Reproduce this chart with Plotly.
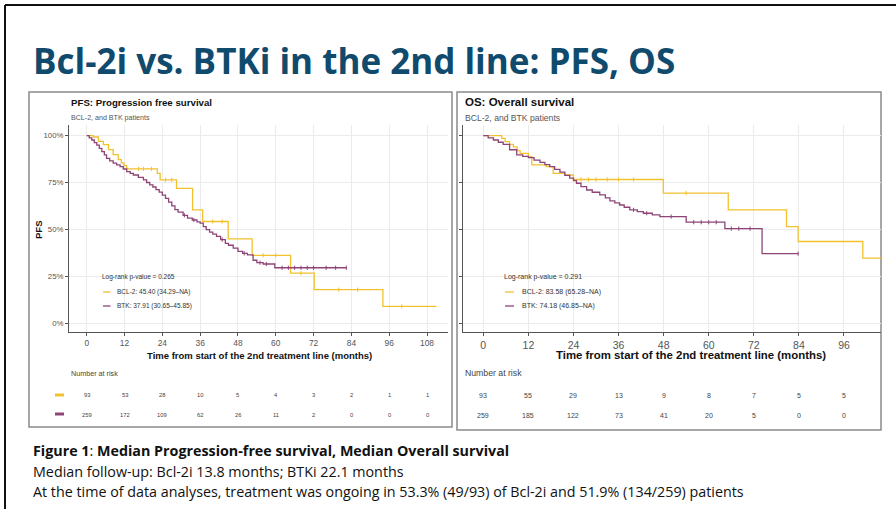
import numpy as np
import plotly.graph_objects as go

W, H = 896, 509

# ---------------- data ----------------
# PFS, BCL-2 (step points: time in months, survival in %)
pfs_bcl_t = [0, 2.1, 3.7, 5.3, 6.9, 8.4, 10.0, 11.0, 11.8, 12.7, 22.4, 23.3, 28.5, 33.6, 36.8, 44.9, 52.5, 64.7, 72.2, 94.0, 111.0]
pfs_bcl_s = [100, 99.3, 97.0, 95.2, 92.6, 89.9, 87.2, 85.5, 84.0, 82.3, 79.9, 76.4, 71.9, 60.4, 54.2, 44.9, 36.1, 26.6, 17.8, 8.9, 8.9]
pfs_bcl_cens = [16.5, 18.0, 20.6, 25.0, 27.0, 40.0, 43.0, 56.0, 60.0, 68.0, 80.0, 86.0, 100.0]

# PFS, BTK
pfs_btk_t = [0, 0.8, 1.6, 2.4, 3.2, 4.0, 4.8, 5.6, 6.3, 7.3, 8.4, 9.5, 10.6, 11.6, 12.7, 13.8, 14.8, 16.4, 18.0, 19.0,
             20.0, 21.0, 22.0, 23.0, 24.0, 25.0, 26.0, 27.0, 28.0, 29.0, 30.6, 32.0, 33.5, 35.0, 36.0, 37.0, 37.91,
             39.0, 40.0, 41.2, 42.5, 44.0, 45.0, 46.5, 48.0, 49.5, 51.0, 52.8, 54.0, 56.0, 59.7, 82.4]
pfs_btk_s = [100, 98.8, 97.7, 96.3, 95.0, 93.2, 91.5, 89.7, 87.9, 86.6, 85.3, 84.4, 83.5, 82.2, 80.8, 79.9, 79.0, 77.7, 76.4, 75.0,
             73.7, 72.6, 71.2, 69.9, 68.3, 66.5, 64.5, 62.5, 60.5, 59.2, 57.5, 56.0, 55.0, 54.0, 53.3, 51.5, 49.8,
             48.5, 47.5, 46.2, 44.5, 42.5, 41.5, 40.0, 38.2, 37.2, 36.4, 33.5, 32.2, 31.5, 29.5, 29.5]
pfs_btk_cens = [31.0, 34.0, 43.0, 50.0, 55.0, 57.0, 62.0, 64.0, 66.0, 68.0, 70.0, 72.0, 76.0, 79.0, 82.4]

# OS, BCL-2
os_bcl_t = [0, 4.9, 5.8, 7.0, 8.0, 9.0, 9.8, 12.0, 12.9, 16.8, 18.6, 21.7, 24.0, 47.9, 65.2, 80.7, 83.8, 101.0, 110.0]
os_bcl_s = [100, 98.6, 96.8, 95.4, 94.0, 92.0, 90.6, 88.8, 84.4, 83.5, 79.9, 79.0, 76.6, 69.3, 60.4, 51.5, 43.5, 34.6, 34.6]
os_bcl_cens = [26.0, 28.0, 30.0, 33.0, 36.0, 40.0, 54.0]

# OS, BTK
os_btk_t = [0, 1.3, 2.7, 4.0, 5.3, 7.0, 8.9, 10.5, 12.0, 13.5, 15.1, 16.4, 17.7, 19.0, 20.4, 21.7, 23.0, 24.0, 24.8,
            26.0, 27.5, 29.0, 31.0, 32.5, 33.7, 35.0, 36.3, 37.5, 39.0, 41.0, 42.6, 45.0, 47.0, 54.0, 64.3, 74.2, 83.8]
os_btk_s = [100, 98.8, 97.7, 96.5, 95.4, 92.5, 89.7, 88.9, 88.3, 87.0, 85.8, 84.6, 83.5, 82.0, 80.5, 78.8, 77.3, 76.0, 74.6,
            72.8, 71.0, 69.8, 68.4, 66.8, 65.2, 64.1, 63.0, 61.8, 60.4, 59.5, 58.6, 57.7, 56.8, 53.8, 50.4, 37.0, 37.0]
os_btk_cens = [40.0, 43.5, 50.0, 56.0, 58.0, 60.0, 62.0, 66.0, 68.0, 71.0, 83.8]

# axes / risk tables
pfs_months = [0, 12, 24, 36, 48, 60, 72, 84, 96, 108]
os_months = [0, 12, 24, 36, 48, 60, 72, 84, 96]
y_ticks = [0, 25, 50, 75, 100]
y_tick_labels = ["0%", "25%", "50%", "75%", "100%"]
risk_pfs_bcl = [93, 53, 28, 10, 5, 4, 3, 2, 1, 1]
risk_pfs_btk = [259, 172, 109, 62, 26, 11, 2, 0, 0, 0]
risk_os_bcl = [93, 55, 29, 13, 9, 8, 7, 5, 5]
risk_os_btk = [259, 185, 122, 73, 41, 20, 5, 0, 0]

title_text = "Bcl-2i vs. BTKi in the 2nd line: PFS, OS"
pfs_title = "PFS: Progression free survival"
os_title = "OS: Overall survival"
subtitle = "BCL-2, and BTK patients"
x_title = "Time from start of the 2nd treatment line (months)"
pfs_legend = ["Log-rank p-value = 0.265", "BCL-2: 45.40 (34.29\u2013NA)", "BTK: 37.91 (30.65\u201345.85)"]
os_legend = ["Log-rank p-value = 0.291", "BCL-2: 83.58 (65.28\u2013NA)", "BTK: 74.18 (46.85\u2013NA)"]
foot = [
    "<b>Figure 1</b>: <b>Median Progression-free survival, Median Overall survival</b>",
    "Median follow-up: Bcl-2i 13.8 months; BTKi 22.1 months",
    "At the time of data analyses, treatment was ongoing in 53.3% (49/93) of Bcl-2i and 51.9% (134/259) patients",
]

YEL = "#F2C12E"
PUR = "#8E4477"
GRID = "#ebebeb"
AX = "#555555"
ARIAL = "Liberation Sans, Arial, sans-serif"
CAL = "Open Sans, Lato, sans-serif"


def px(x):
    return x / W


def py(y):
    return 1 - y / H


def surv_at(t_arr, s_arr, times):
    t_arr = np.asarray(t_arr)
    idx = np.searchsorted(t_arr, np.asarray(times), side="right") - 1
    return list(np.asarray(s_arr)[idx])


fig = go.Figure()


def add_curve(t, s, cens, color, xa, ya):
    fig.add_trace(go.Scatter(x=t, y=s, mode="lines", line=dict(color=color, width=1.3, shape="hv"),
                             xaxis=xa, yaxis=ya, showlegend=False, hoverinfo="skip"))
    fig.add_trace(go.Scatter(x=cens, y=surv_at(t, s, cens), mode="markers",
                             marker=dict(symbol="line-ns-open", size=3, color=color,
                                         line=dict(color=color, width=1)),
                             xaxis=xa, yaxis=ya, showlegend=False, hoverinfo="skip"))


add_curve(pfs_bcl_t, pfs_bcl_s, pfs_bcl_cens, YEL, "x", "y")
add_curve(pfs_btk_t, pfs_btk_s, pfs_btk_cens, PUR, "x", "y")
add_curve(os_bcl_t, os_bcl_s, os_bcl_cens, YEL, "x2", "y2")
add_curve(os_btk_t, os_btk_s, os_btk_cens, PUR, "x2", "y2")

ydom = [py(332), py(125)]
common_x = dict(ticks="outside", ticklen=3, tickwidth=1, tickcolor=AX, showline=True, linecolor=AX, linewidth=1,
                showgrid=True, gridcolor=GRID, gridwidth=0.8, zeroline=False, fixedrange=True)
common_y = dict(ticks="outside", ticklen=3, tickwidth=1, tickcolor=AX, showline=True, linecolor=AX, linewidth=1,
                showgrid=True, gridcolor=GRID, gridwidth=0.8, zeroline=False, range=[-4.8, 105.7],
                tickvals=y_ticks, domain=ydom, fixedrange=True)

fig.update_layout(
    width=W, height=H, margin=dict(l=0, r=0, t=0, b=0),
    paper_bgcolor="white", plot_bgcolor="white",
    xaxis=dict(domain=[px(69), px(448)], range=[-5.62, 114.66], anchor="y", tickvals=pfs_months,
               tickfont=dict(family=ARIAL, size=8.4, color=AX), **common_x),
    yaxis=dict(anchor="x", ticktext=y_tick_labels, tickfont=dict(family=ARIAL, size=7.8, color=AX), **common_y),
    xaxis2=dict(domain=[px(462.7), px(881)], range=[-5.48, 105.85], anchor="y2", tickvals=os_months,
                tickfont=dict(family=ARIAL, size=10.5, color=AX), **common_x),
    yaxis2=dict(anchor="x2", showticklabels=False, **common_y),
)

ann = []
shapes = []


def text(x, y, s, size, family=ARIAL, color="#222", xanchor="left", **kw):
    ann.append(dict(x=x, y=y, xref=kw.pop("xref", "paper"), yref="paper", text=s, showarrow=False,
                    xanchor=xanchor, yanchor="middle", font=dict(family=family, size=size, color=color), **kw))


# slide frame
shapes.append(dict(type="line", xref="paper", yref="paper", x0=px(5), x1=1, y0=py(5), y1=py(5),
                   line=dict(color="#111", width=2)))
shapes.append(dict(type="line", xref="paper", yref="paper", x0=px(5), x1=px(5), y0=py(5), y1=0,
                   line=dict(color="#111", width=2)))
# panel boxes
shapes.append(dict(type="rect", xref="paper", yref="paper", x0=px(29), x1=px(452), y0=py(427), y1=py(92),
                   line=dict(color="#8a8a8a", width=1.5), layer="below"))
shapes.append(dict(type="rect", xref="paper", yref="paper", x0=px(457), x1=px(881), y0=py(430), y1=py(92),
                   line=dict(color="#8a8a8a", width=1.5), layer="below"))

# slide title
text(px(31), py(60), "<b>" + title_text + "</b>", 35, family=CAL, color="#104a6c")

# panel headings
text(px(69), py(102.5), "<b>" + pfs_title + "</b>", 9.7, color="#111")
text(px(69), py(118), subtitle, 7.1, color="#555")
text(px(463), py(102.5), "<b>" + os_title + "</b>", 11.5, color="#111")
text(px(463), py(118), subtitle, 8.6, color="#555")

# y-axis title (left)
text(px(38), py(230), "<b>PFS</b>", 9.5, color="#111", xanchor="center", textangle=-90)

# x-axis titles
text(px(259), py(355), "<b>" + x_title + "</b>", 9.5, color="#111", xanchor="center")
text(px(691), py(355), "<b>" + x_title + "</b>", 11.4, color="#111", xanchor="center")

# in-plot legends
for i, (yy, col) in enumerate([(277, None), (292, YEL), (306, PUR)]):
    if col is None:
        text(px(100), py(yy), pfs_legend[i], 6.5, color="#333")
        text(px(501.7), py(yy), os_legend[i], 7.0, color="#333")
    else:
        shapes.append(dict(type="line", xref="paper", yref="paper", x0=px(103), x1=px(110.5), y0=py(yy), y1=py(yy),
                           line=dict(color=col, width=1.3)))
        text(px(115), py(yy), pfs_legend[i], 6.5, color="#333")
        shapes.append(dict(type="line", xref="paper", yref="paper", x0=px(505), x1=px(514), y0=py(yy), y1=py(yy),
                           line=dict(color=col, width=1.3)))
        text(px(520), py(yy), os_legend[i], 7.0, color="#333")

# risk tables
text(px(69), py(373), "Number at risk", 7.2, color="#444")
text(px(463), py(373), "Number at risk", 8.7, color="#444")
for m, a, b in zip(pfs_months, risk_pfs_bcl, risk_pfs_btk):
    text(m, py(395), str(a), 5.8, color="#444", xanchor="center", xref="x")
    text(m, py(415), str(b), 5.8, color="#444", xanchor="center", xref="x")
for m, a, b in zip(os_months, risk_os_bcl, risk_os_btk):
    text(m, py(395), str(a), 7.0, color="#444", xanchor="center", xref="x2")
    text(m, py(415), str(b), 7.0, color="#444", xanchor="center", xref="x2")
for yy, col in [(395, YEL), (414, PUR)]:
    shapes.append(dict(type="line", xref="paper", yref="paper", x0=px(55), x1=px(64), y0=py(yy), y1=py(yy),
                       line=dict(color=col, width=3)))

# footnote
for yy, s in zip([450, 471, 491], foot):
    text(px(31), py(yy), s, 14.3, family=CAL, color="#111")

fig.update_layout(annotations=ann, shapes=shapes)
fig.write_html("out.html")
